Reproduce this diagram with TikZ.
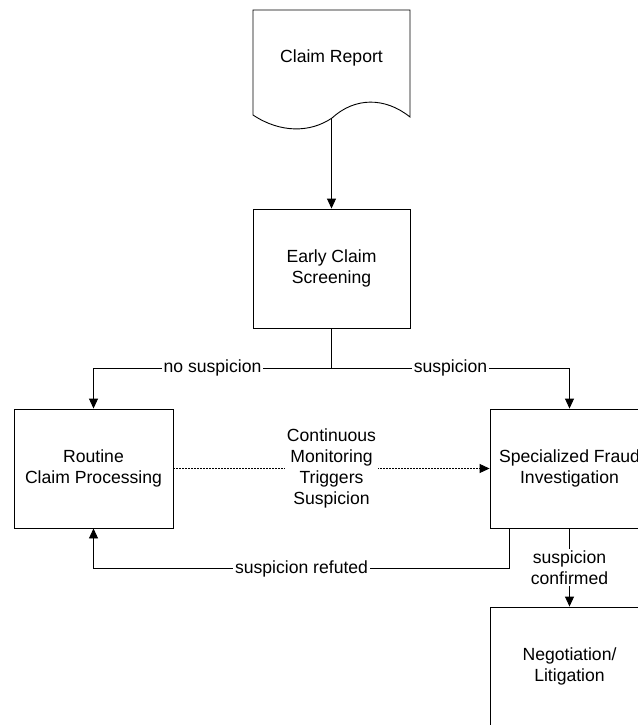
\documentclass[tikz,border=0pt]{standalone}
\usepackage{fontspec}
\setmainfont{Liberation Sans}
\usetikzlibrary{arrows.meta}
\begin{document}
\begin{tikzpicture}[x=1pt,y=-1pt,
  every node/.style={font=\fontsize{17.6}{21}\selectfont},
  procbox/.style={draw,line width=0.9pt,rectangle,minimum width=159pt,minimum height=119pt,inner sep=0pt,align=center},
  conn/.style={line width=0.9pt},
  arr/.style={conn,-{Triangle[length=10pt,width=9pt]}},
  lbl/.style={fill=white,inner sep=2pt,align=center}]
\useasboundingbox (0,0) rectangle (637,725);
% document shape
\draw[line width=0.9pt] (253,10) -- (410,10) -- (410,117)
  .. controls (385,97) and (355,97) .. (332,118)
  .. controls (310,133) and (280,133) .. (253,115) -- cycle;
\node (cr) at (331.5,58) {Claim Report};
\coordinate (crb) at (331.5,118);
\node[procbox,minimum width=157pt] (ecs) at (331.5,268.5) {Early Claim\\Screening};
\node[procbox] (rcp) at (93.5,468.5) {Routine\\Claim Processing};
\node[procbox] (sfi) at (569.5,468.5) {Specialized Fraud\\Investigation};
\node[procbox] (neg) at (569.5,666.5) {Negotiation/\\Litigation};
\coordinate (j) at (331.5,368);
\draw[arr] (crb) -- (ecs.north);
\draw[conn] (ecs.south) -- (j);
\draw[arr] (j) -| node[lbl,pos=0.25]{no suspicion} (rcp.north);
\draw[arr] (j) -| node[lbl,pos=0.25]{suspicion} (sfi.north);
\draw[arr,dash pattern=on 2pt off 1pt] (rcp.east) -- node[lbl]{Continuous\\Monitoring\\Triggers\\Suspicion} (sfi.west);
\coordinate (rf) at ([xshift=20pt]sfi.south west);
\coordinate (rfb) at ([yshift=-40pt]rf);
\draw[arr] (rf) -- (rfb) -| node[lbl,pos=0.25]{suspicion refuted} (rcp.south);
\draw[arr] (sfi.south) -- node[lbl]{suspicion\\confirmed} (neg.north);
\end{tikzpicture}
\end{document}
